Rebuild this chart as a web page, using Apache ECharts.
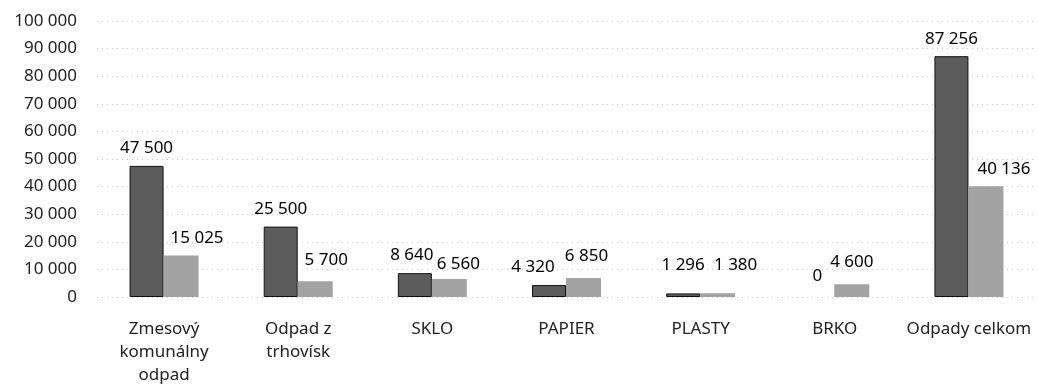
<!DOCTYPE html>
<html><head><meta charset="utf-8">
<script src="https://cdn.jsdelivr.net/npm/echarts@6/dist/echarts.min.js"></script>
<style>html,body{margin:0;padding:0;background:#fff}#c{width:1038px;height:385px}</style>
</head><body><div id="c"></div>
<script>
const categories = ['Zmesový\nkomunálny\nodpad', 'Odpad z\ntrhovísk', 'SKLO', 'PAPIER', 'PLASTY', 'BRKO', 'Odpady celkom'];
const seriesA = [47500, 25500, 8640, 4320, 1296, 0, 87256];
const seriesB = [15025, 5700, 6560, 6850, 1380, 4600, 40136];
const yTicks = [0, 10000, 20000, 30000, 40000, 50000, 60000, 70000, 80000, 90000, 100000];

// label nudges (style only) mimicking the reference label placement
const offA = [[0,0],[0,0],[-3,0],[-16,0],[0,-11],[0,-3],[0,0]];
const offB = [[16,0],[11,-4],[9,3],[3,-4],[18,-11],[0,-5],[18,0]];

const fmt = v => String(v).replace(/\B(?=(\d{3})+(?!\d))/g, ' ');
const font = 'Noto Sans';
const mk = (vals, offs) => vals.map((v, i) => ({
  value: v,
  label: { offset: offs[i] },
  itemStyle: v === 0 ? { borderWidth: 0 } : undefined
}));
const lbl = { show: true, position: 'top', distance: 9, color: '#000', fontSize: 17, fontFamily: font, formatter: p => fmt(p.value) };
const chart = echarts.init(document.getElementById('c'));
chart.setOption({
  animation: false,
  textStyle: { fontFamily: font },
  grid: { left: 97, right: 2, top: 21, bottom: 88, outerBoundsMode: 'none', containLabel: false },
  xAxis: {
    type: 'category',
    data: categories,
    axisLine: { show: false }, axisTick: { show: false },
    axisLabel: { color: '#222', fontSize: 17, lineHeight: 23, margin: 21, interval: 0, fontFamily: font }
  },
  yAxis: {
    type: 'value', min: yTicks[0], max: yTicks[yTicks.length - 1], interval: 10000,
    axisLine: { show: false }, axisTick: { show: false },
    axisLabel: { color: '#222', fontSize: 17, margin: 20, formatter: v => fmt(v), fontFamily: font },
    splitLine: { lineStyle: { color: '#c4c4c4', type: [1, 4], width: 1 } }
  },
  series: [
    { type: 'bar', data: mk(seriesA, offA), barWidth: 34, barGap: '0%',
      itemStyle: { color: '#5c5c5c', borderColor: '#111', borderWidth: 1 },
      label: lbl },
    { type: 'bar', data: mk(seriesB, offB), barWidth: 35, barGap: '0%',
      itemStyle: { color: '#a3a3a3' },
      label: lbl }
  ]
});
</script></body></html>
